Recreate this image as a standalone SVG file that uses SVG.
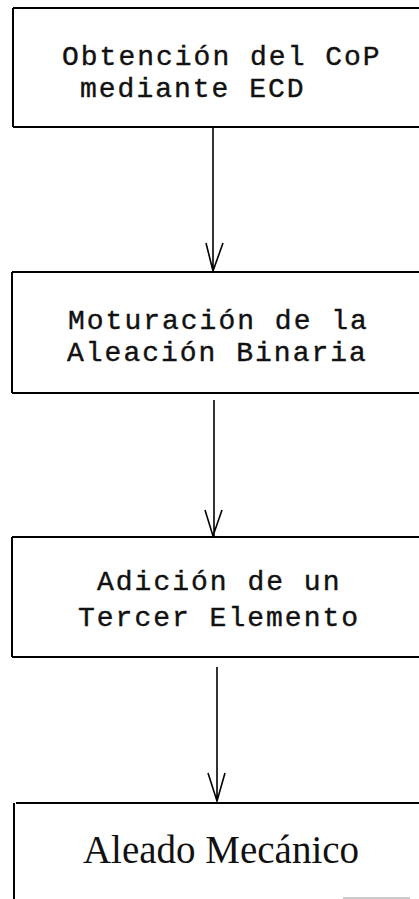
<svg xmlns="http://www.w3.org/2000/svg" width="419" height="899" viewBox="0 0 419 899">
<style>
.box{fill:none;stroke:#000;stroke-width:2}
.mono{font-family:"Liberation Mono","Courier New",monospace;font-size:28px;letter-spacing:2px;fill:#111;stroke:#111;stroke-width:0.4}
.serif{font-family:"Liberation Serif","Times New Roman",serif;font-size:39px;fill:#111}
.conn{fill:none;stroke:#000;stroke-width:1.6}
</style>
<rect width="419" height="899" fill="#fff"/>
<g id="node1">
<path class="box" d="M13,8 V127 M13,8 H430 M13,127 H430"/>
<text class="mono" x="62" y="65">Obtención del CoP</text>
<text class="mono" x="80" y="97">mediante ECD</text>
</g>
<g id="node2">
<path class="box" d="M12,272 V393 M12,272 H430 M12,393 H430"/>
<text class="mono" x="68" y="329">Moturación de la</text>
<text class="mono" x="67" y="361">Aleación Binaria</text>
</g>
<g id="node3">
<path class="box" d="M12,537 V657 M12,537 H430 M12,657 H430"/>
<text class="mono" x="97" y="590">Adición de un</text>
<text class="mono" x="78" y="626">Tercer Elemento</text>
</g>
<g id="node4">
<path class="box" d="M14,803 V899 M16,803 H430"/>
<line x1="343" y1="898" x2="410" y2="898" stroke="#bbb" stroke-width="1.5"/>
<text class="serif" x="221" y="863" text-anchor="middle">Aleado Mecánico</text>
</g>
<g id="connectors">
<path class="conn" d="M213,127 V271 M206,243 L213,271 L223,243"/>
<path class="conn" d="M214,400 V536 M205,510 L213,536 L222,510"/>
<path class="conn" d="M217,667 V801 M208,773 L217,801 L225,773"/>
</g>
</svg>
